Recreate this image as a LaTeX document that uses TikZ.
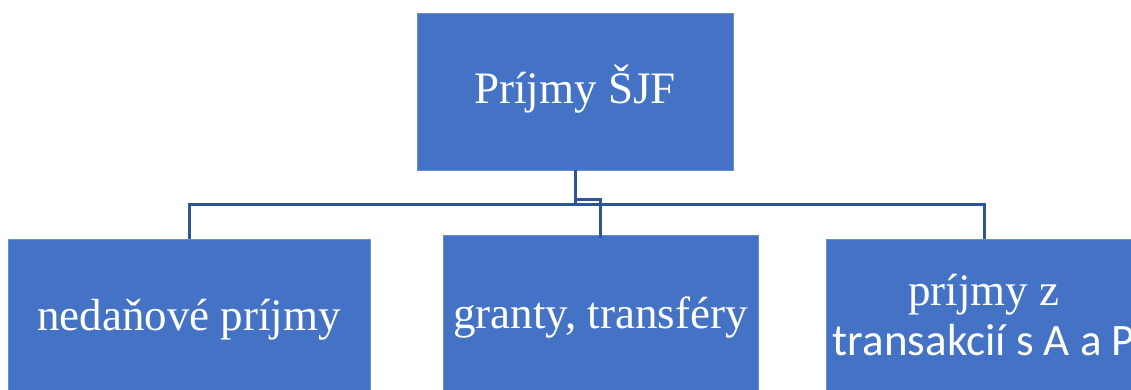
\documentclass[tikz,border=0pt]{standalone}
\usepackage{fontspec}
\setmainfont{Liberation Serif}
\newfontfamily\carlito{Carlito}
\definecolor{boxblue}{HTML}{4472C4}
\definecolor{lineblue}{HTML}{2F5597}
\begin{document}
\begin{tikzpicture}[x=1pt,y=-1pt,
  box/.style={draw=boxblue!80!white,line width=0.8pt,fill=boxblue,inner sep=0pt,text=white,font=\fontsize{45}{50}\selectfont},
  conn/.style={draw=lineblue,line width=3pt}]
\useasboundingbox (0,0) rectangle (1131,390);
\clip (0,0) rectangle (1131,390);
\node[box,minimum width=316pt,minimum height=157pt] (top) at (575,91.5) {};
\node[box,minimum width=362pt,minimum height=191pt] (left) at (189,334.5) {};
\node[box,minimum width=315pt,minimum height=195pt] (mid) at (600.5,332.5) {};
\node[box,minimum width=316pt,minimum height=191pt] (right) at (984,334.5) {};
\node[text=white,anchor=base,inner sep=0pt,font=\fontsize{45}{50}\selectfont] (ttop) at (575,104) {Príjmy ŠJF};
\node[text=white,anchor=base,inner sep=0pt,font=\fontsize{45}{50}\selectfont] (tleft) at (189,330) {nedaňové príjmy};
\node[text=white,anchor=base,inner sep=0pt,font=\fontsize{45}{50}\selectfont] (tmid) at (600.5,328) {granty, transféry};
\node[text=white,anchor=base,inner sep=0pt,font=\fontsize{45}{50}\selectfont] (tright1) at (984,305) {príjmy z};
\node[text=white,anchor=base,inner sep=0pt,font=\carlito\fontsize{45}{50}\selectfont] (tright2) at (984,355) {transakcií s A a P};
\draw[conn] (top.south) -- (top.south |- 0,205.5);
\draw[conn] (left.north) -- (left.north |- 0,204) -- (right.north |- 0,204) -- (right.north);
\draw[conn] (top.south |- 0,199) -| ([yshift=-3pt]mid.north);
\end{tikzpicture}
\end{document}
